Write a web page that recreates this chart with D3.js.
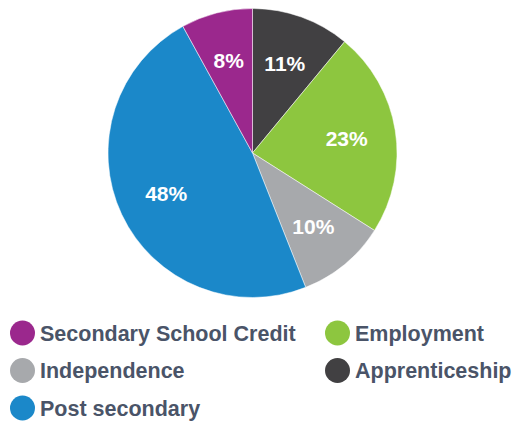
<!DOCTYPE html>
<html><head><meta charset="utf-8">
<script src="https://cdn.jsdelivr.net/npm/d3@7"></script>
<style>
html,body{margin:0;padding:0;background:#fff;}
svg{display:block;}
text{font-family:"Liberation Sans",Arial,Helvetica,sans-serif;font-weight:bold;}
</style></head>
<body>
<svg id="chart" width="512" height="421"></svg>
<script>
const categories = ["Apprenticeship","Employment","Independence","Post secondary","Secondary School Credit"];
const values = [11, 23, 10, 48, 8];
const colors = ["#414042","#8dc63f","#a7a9ac","#1b88c9","#9b288d"];
const legendOrder = ["Secondary School Credit","Employment","Independence","Apprenticeship","Post secondary"];

const svg = d3.select("#chart");
const cx = 252.5, cy = 153, r = 144.5;
const color = d3.scaleOrdinal().domain(categories).range(colors);
const pie = d3.pie().sort(null).value(d => d.v);
const arcs = pie(categories.map((c,i)=>({c, v: values[i]})));
const arc = d3.arc().innerRadius(0).outerRadius(r);
const labelArc = d3.arc().innerRadius(r*0.66).outerRadius(r*0.66);

const g = svg.append("g").attr("transform",`translate(${cx},${cy})`);
g.selectAll("path").data(arcs).join("path")
  .attr("d", arc).attr("fill", d => color(d.data.c))
  .attr("stroke","#fff").attr("stroke-width",0.5);
g.selectAll("text").data(arcs).join("text")
  .attr("transform", d => `translate(${labelArc.centroid(d)})`)
  .attr("text-anchor","middle").attr("dy","0.36em")
  .attr("fill","#fff").attr("font-size",21)
  .text(d => d.data.v + "%");

const leg = svg.append("g");
const items = leg.selectAll("g").data(legendOrder).join("g")
  .attr("transform", (d,i) => `translate(${i%2===0 ? 22.5 : 337.5},${333 + Math.floor(i/2)*37.5})`);
items.append("circle").attr("r",12.5).attr("fill", d => color(d));
items.append("text").attr("x",17.5).attr("dy","0.36em")
  .attr("fill","#4a5468").attr("font-size",21.5).text(d => d);
</script>
</body></html>
